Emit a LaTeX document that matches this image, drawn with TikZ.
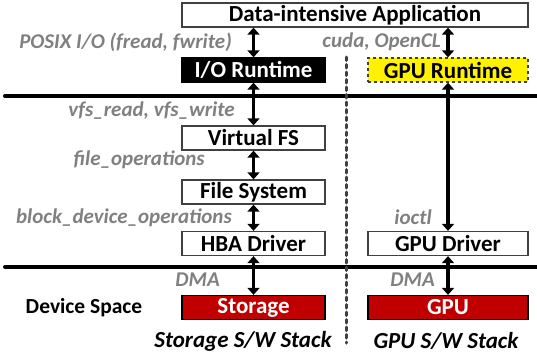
\documentclass[tikz,border=0pt]{standalone}
\usepackage{fontspec}
\setmainfont{Carlito}
\usepackage{xcolor}
\usetikzlibrary{arrows.meta}

\definecolor{labelgray}{RGB}{128,128,128}
\definecolor{edgegray}{RGB}{64,64,64}
\definecolor{devred}{RGB}{192,0,0}

\tikzset{
  layer/.style={draw=edgegray, line width=1.3pt, minimum height=24pt, inner sep=0pt,
    font=\fontsize{23}{25}\selectfont\bfseries},
  call/.style={text=labelgray, anchor=east, inner sep=0pt, font=\fontsize{21}{23}\selectfont\bfseries\itshape},
  link/.style={line width=3.2pt, {Triangle[length=7pt,width=12pt]}-{Triangle[length=7pt,width=12pt]}},
  boundary/.style={line width=4pt, line cap=round},
}

\begin{document}
\begin{tikzpicture}[x=1pt,y=1pt]
		\useasboundingbox (0,0) rectangle (537,360);
		% user space
		\node[layer, minimum width=346pt] (app) at (355,345) {Data-intensive Application};
		\node[layer, fill=black, draw=black, text=white, minimum width=143pt] (iort) at (253.5,290) {I/O Runtime};
		\node[layer, fill=yellow, dashed, minimum width=160pt] (gpurt) at (448,290) {GPU Runtime};
		% kernel space
		\node[layer, minimum width=143pt] (vfs) at (253.5,222) {Virtual FS};
		\node[layer, minimum width=143pt] (fs) at (253.5,168) {File System};
		\node[layer, minimum width=143pt] (hba) at (253.5,116.5) {HBA Driver};
		\node[layer, minimum width=160pt] (gpudrv) at (448,116.5) {GPU Driver};
		% devices
		\node[layer, fill=devred, draw=black, text=white, minimum width=143pt] (stor) at (253.5,52.5) {Storage};
		\node[layer, fill=devred, draw=black, text=white, minimum width=160pt] (gpu) at (448,52.5) {GPU};

		\draw[boundary] (5,264) -- (537,264);
		\draw[boundary] (5,93) -- (537,93);
		\draw[edgegray, line width=3pt, line cap=round, dash pattern=on 3.5pt off 4pt] (346,303) -- (346,17);

		\draw[link] (iort.north |- app.south) -- (iort.north);
		\draw[link] (iort.south) -- (vfs.north);
		\draw[link] (vfs.south) -- (fs.north);
		\draw[link] (fs.south) -- (hba.north);
		\draw[link] (hba.south) -- (stor.north);
		\draw[link] (gpurt.north |- app.south) -- (gpurt.north);
		\draw[link] (gpurt.south) -- (gpudrv.north);
		\draw[link] (gpudrv.south) -- (gpu.north);

		\node[call] (posix) at (232,318) {POSIX I/O (fread, fwrite)};
		\node[call] (vfscall) at (235,249) {vfs\_read, vfs\_write};
		\node[call] (fops) at (205,200) {file\_operations};
		\node[call] (bops) at (232,142) {block\_device\_operations};
		\node[call] (dmaleft) at (220,80) {DMA};
		\node[call] (cuda) at (441,318) {cuda, OpenCL};
		\node[call] (ioctl) at (432,143) {ioctl};
		\node[call] (dmaright) at (435,80) {DMA};

		\node[font=\fontsize{21.5}{23}\selectfont\bfseries] (devspace) at (84,52) {Device Space};
		\node[font=\fontsize{23}{25}\selectfont\bfseries\itshape] (storstack) at (243,19) {Storage S/W Stack};
		\node[font=\fontsize{23}{25}\selectfont\bfseries\itshape] (gpustack) at (446,19) {GPU S/W Stack};
		\end{tikzpicture}
\end{document}
